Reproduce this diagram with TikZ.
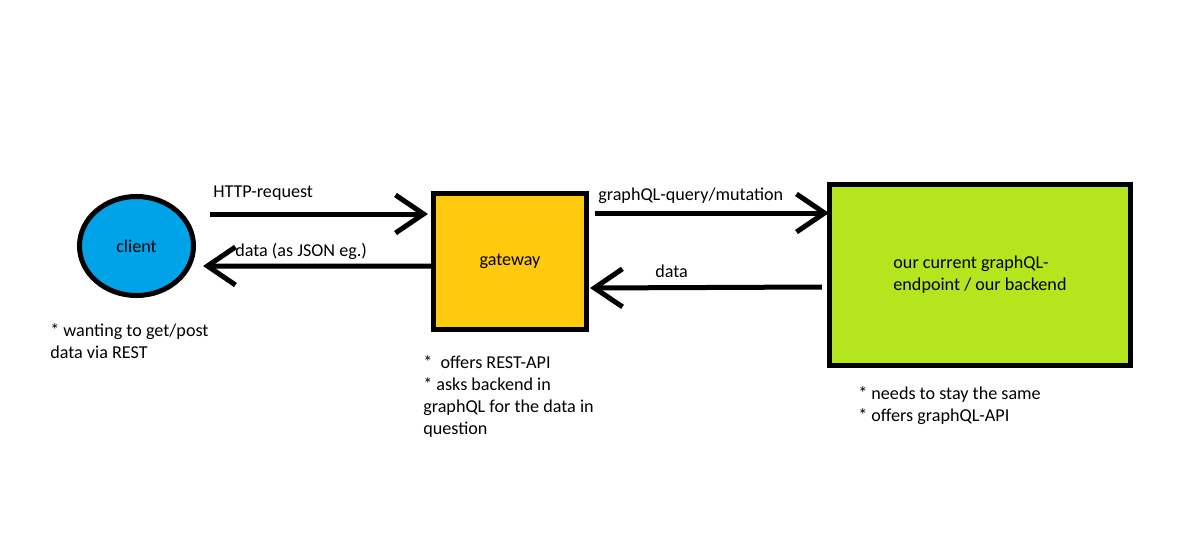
\documentclass[tikz,border=0pt]{standalone}
\usepackage{fontspec}
\setmainfont{Carlito}
\usetikzlibrary{shapes.geometric,arrows.meta}

\definecolor{clientblue}{HTML}{00A2E8}
\definecolor{gatewaygold}{HTML}{FFC90E}
\definecolor{backendlime}{HTML}{B5E61D}

\begin{document}
\begin{tikzpicture}[x=0.025cm, y=-0.025cm,
  every node/.style={font=\fontsize{12.9}{15.5}\selectfont},
  box/.style={rectangle, draw, line width=0.125cm, inner sep=0pt},
  arrow/.style={-{Straight Barb[length=0.7cm,width=0.95cm]}, line width=0.125cm},
  note/.style={anchor=base west, align=left, inner sep=0pt}]

\useasboundingbox (0,0) rectangle (1193,539);

\node[box, ellipse, fill=clientblue, minimum width=2.85cm, minimum height=2.475cm] (client) at (136.5,246) {client};
\node[box, fill=gatewaygold, minimum width=3.825cm, minimum height=3.4cm] (gateway) at (510,261.5) {gateway};
\node[box, fill=backendlime, minimum width=7.525cm, minimum height=4.525cm, align=left] (backend) at (980,275) {our current graphQL-\\endpoint / our backend};

\draw[arrow] ([shift={(14,-32)}]client.east) -- ([shift={(-3,-47.5)}]gateway.west);
\draw[arrow] ([shift={(0,4.5)}]gateway.west) -- ([shift={(7,20)}]client.east);
\draw[arrow] ([shift={(6,-48.5)}]gateway.east) -- ([shift={(2,-62)}]backend.west);
\draw[arrow] ([shift={(-5,12)}]backend.west) -- ([shift={(1,26.5)}]gateway.east);

% labels on the arrows
\node[note] (reqlabel) at (213,197) {HTTP-request};
\node[note] (jsonlabel) at (235,256) {data (as JSON eg.)};
\node[note] (querylabel) at (598,200) {graphQL-query/mutation};
\node[note] (datalabel) at (655,277) {data};

% notes below the boxes (base = last line)
\node[note] (clientnote) at (50,358) {* wanting to get/post\\data via REST};
\node[note] (gatewaynote) at (423,434) {* \ offers REST-API\\* asks backend in\\graphQL for the data in\\question};
\node[note] (backendnote) at (858,421) {* needs to stay the same\\* offers graphQL-API};
\end{tikzpicture}
\end{document}
